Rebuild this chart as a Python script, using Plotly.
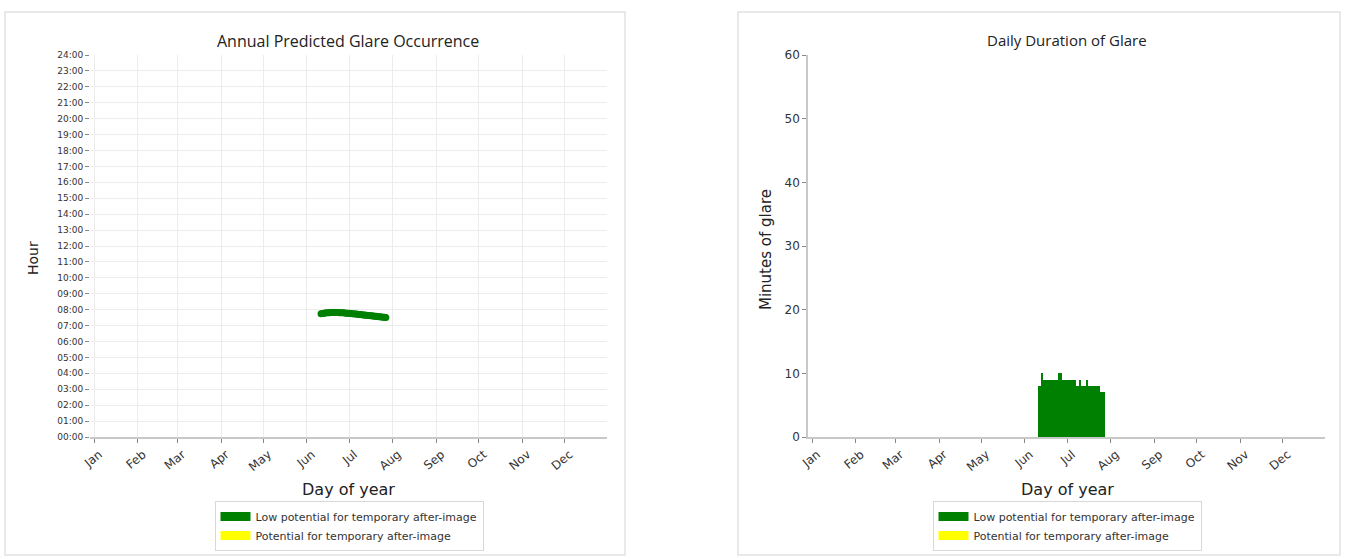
import plotly.graph_objects as go

# ---- data ----
month_labels = ["Jan", "Feb", "Mar", "Apr", "May", "Jun", "Jul", "Aug", "Sep", "Oct", "Nov", "Dec"]
month_days = [1, 32, 60, 91, 121, 152, 182, 213, 244, 274, 305, 335]
hour_vals = list(range(0, 25))
hour_labels = ["%02d:00" % h for h in hour_vals]

glare_days = [162, 163, 164, 165, 166, 167, 168, 169, 170, 171, 172, 173, 174, 175, 176, 177,
              178, 179, 180, 181, 182, 183, 184, 185, 186, 187, 188, 189, 190, 191, 192, 193,
              194, 195, 196, 197, 198, 199, 200, 201, 202, 203, 204, 205, 206, 207, 208]
glare_hours = [7.74, 7.76, 7.78, 7.79, 7.80, 7.81, 7.81, 7.82, 7.82, 7.82, 7.82, 7.82, 7.82, 7.81,
               7.81, 7.80, 7.80, 7.79, 7.78, 7.78, 7.77, 7.76, 7.75, 7.74, 7.73, 7.72, 7.71, 7.70,
               7.69, 7.68, 7.67, 7.66, 7.65, 7.64, 7.63, 7.62, 7.61, 7.60, 7.59, 7.58, 7.57, 7.56,
               7.55, 7.54, 7.53, 7.52, 7.51]
glare_minutes = [8, 8, 10, 9, 9, 9, 9, 9, 9, 9, 9, 9, 9, 9, 10, 9,
                 10, 9, 9, 9, 9, 9, 9, 9, 9, 9, 9, 8, 8, 9, 8, 8,
                 8, 8, 9, 8, 8, 8, 8, 8, 8, 8, 8, 8, 7, 7, 7]

low_name = "Low potential for temporary after-image"
pot_name = "Potential for temporary after-image"
GREEN = "#008000"
YELLOW = "#ffff00"

W, H = 1349, 559
def px(x):
    return x / W
def py(y):
    return 1 - y / H

fig = go.Figure()

# left: scatter of glare occurrence
fig.add_trace(go.Scatter(x=glare_days, y=glare_hours, mode="markers",
                         marker=dict(color=GREEN, size=7, line=dict(width=0)),
                         showlegend=False, xaxis="x", yaxis="y", hoverinfo="x+y"))
# right: bars of daily duration
fig.add_trace(go.Bar(x=glare_days, y=glare_minutes, name=low_name, marker_color=GREEN,
                     marker_line_width=0, width=1.0, xaxis="x2", yaxis="y2", showlegend=False))

# legend entries (patch-like wide swatches)
for leg, xa, ya in [("legend", "x", "y"), ("legend2", "x2", "y2")]:
    fig.add_trace(go.Scatter(x=[None], y=[None], mode="lines", name=low_name,
                             line=dict(color=GREEN, width=9), xaxis=xa, yaxis=ya, legend=leg))
    fig.add_trace(go.Scatter(x=[None], y=[None], mode="lines", name=pot_name,
                             line=dict(color=YELLOW, width=9), xaxis=xa, yaxis=ya, legend=leg))

tick_font = dict(family="DejaVu Sans", size=9, color="#333")
title_font = dict(family="Open Sans", size=16, color="#222")

common_x = dict(range=[-2, 365], tickvals=month_days, ticktext=month_labels, tickangle=-40,
                ticks="outside", ticklen=4, tickcolor="#888", showline=True, linecolor="#c8c8c8",
                linewidth=1.5, tickfont=dict(family="DejaVu Sans", size=12, color="#333"),
                ticklabelshift=5,
                zeroline=False, fixedrange=True, automargin=False)

legend_common = dict(yanchor="top", xanchor="center", bordercolor="#d8d8d8", borderwidth=1,
                     bgcolor="white", font=dict(family="DejaVu Sans", size=11, color="#333"),
                     itemwidth=30, tracegroupgap=0)

fig.update_layout(
    width=W, height=H, margin=dict(l=0, r=0, t=0, b=0, autoexpand=False),
    paper_bgcolor="white", plot_bgcolor="white", barmode="overlay", bargap=0,
    xaxis=dict(domain=[px(90), px(607)], anchor="y", showgrid=True, gridcolor="#ececec",
               **common_x),
    yaxis=dict(domain=[py(437), py(55)], anchor="x", range=[0, 24], tickvals=hour_vals,
               ticktext=hour_labels, ticks="outside", ticklen=4, tickcolor="#888",
               showgrid=True, gridcolor="#ececec", showline=False, zeroline=False,
               tickfont=tick_font, fixedrange=True, automargin=False),
    xaxis2=dict(domain=[px(808), px(1325)], anchor="y2", showgrid=False, **common_x),
    yaxis2=dict(domain=[py(437), py(55)], anchor="x2", range=[0, 60],
                tickvals=[0, 10, 20, 30, 40, 50, 60], ticks="outside", ticklen=4, tickcolor="#888",
                showgrid=False, showline=True, linecolor="#c8c8c8", linewidth=1.5,
                zeroline=False, tickfont=dict(family="DejaVu Sans", size=12, color="#333"),
                fixedrange=True, automargin=False),
    legend=dict(x=px(349), y=py(501), **legend_common),
    legend2=dict(x=px(1067), y=py(501), **legend_common),
    shapes=[
        dict(type="rect", xref="paper", yref="paper", x0=px(5), x1=px(625), y0=py(555), y1=py(12),
             line=dict(color="#e2e2e2", width=1.5), fillcolor="rgba(0,0,0,0)", layer="below"),
        dict(type="rect", xref="paper", yref="paper", x0=px(738), x1=px(1340), y0=py(555), y1=py(12),
             line=dict(color="#e2e2e2", width=1.5), fillcolor="rgba(0,0,0,0)", layer="below"),
    ],
    annotations=[
        dict(text="Annual Predicted Glare Occurrence", x=px(348), y=py(41), xref="paper", yref="paper",
             showarrow=False, font=title_font, xanchor="center", yanchor="middle"),
        dict(text="Daily Duration of Glare", x=px(1067), y=py(40), xref="paper", yref="paper",
             showarrow=False, font=dict(family="Open Sans", size=15, color="#222"),
             xanchor="center", yanchor="middle"),
        dict(text="Hour", x=px(33), y=py(258), xref="paper", yref="paper", textangle=-90,
             showarrow=False, font=dict(family="DejaVu Sans", size=14, color="#222"),
             xanchor="center", yanchor="middle"),
        dict(text="Minutes of glare", x=px(766), y=py(250), xref="paper", yref="paper", textangle=-90,
             showarrow=False, font=dict(family="DejaVu Sans", size=15, color="#222"),
             xanchor="center", yanchor="middle"),
        dict(text="Day of year", x=px(348), y=py(489), xref="paper", yref="paper",
             showarrow=False, font=dict(family="DejaVu Sans", size=16, color="#222"),
             xanchor="center", yanchor="middle"),
        dict(text="Day of year", x=px(1067), y=py(489), xref="paper", yref="paper",
             showarrow=False, font=dict(family="DejaVu Sans", size=16, color="#222"),
             xanchor="center", yanchor="middle"),
    ],
)

fig.write_html("out.html", config={"displayModeBar": False},
               post_script="document.body.style.margin='0';document.body.style.overflow='hidden';")
